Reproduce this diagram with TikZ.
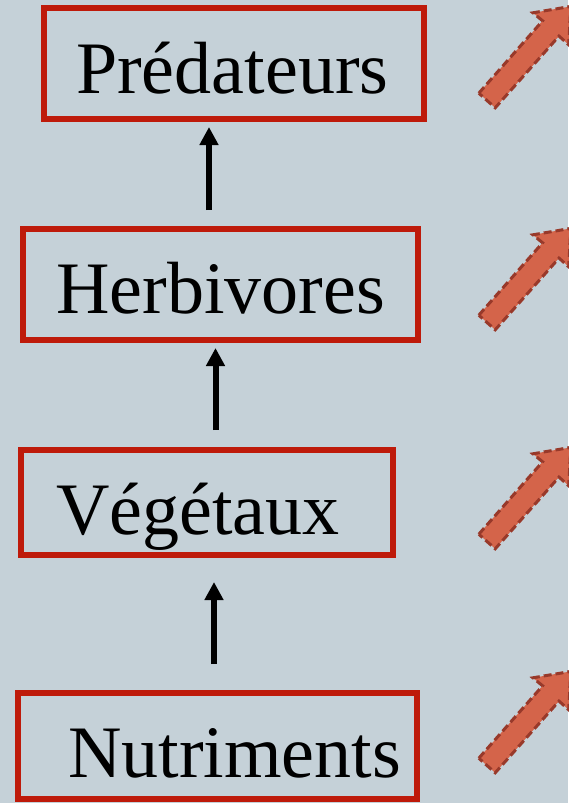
\documentclass[tikz,border=0pt]{standalone}
\usepackage{fontspec}
\setmainfont{Liberation Serif}
\usetikzlibrary{arrows.meta}
\definecolor{bgc}{HTML}{C5D1D8}
\definecolor{boxred}{HTML}{BE1A0A}
\definecolor{blkfill}{HTML}{D4644A}
\definecolor{blkedge}{HTML}{98392A}
\tikzset{
  levelbox/.style={draw=boxred, line width=6pt, rectangle, inner sep=0pt, outer sep=0pt, minimum height=111pt},
  lbl/.style={anchor=base west, inner sep=0pt, font=\fontsize{74}{80}\selectfont, text=black},
  uparr/.style={line width=6pt, draw=black, -{Triangle[length=18pt,width=18pt]}},
  blockarrow/.style={fill=blkfill, draw=blkedge, line width=3pt, dash pattern=on 8pt off 4pt, line join=miter}
}
\begin{document}
\begin{tikzpicture}[x=1pt,y=-1pt]
\fill[bgc] (0,0) rectangle (568,803);
\useasboundingbox (0,0) rectangle (568,803);
% boxes
\node[levelbox, minimum width=380pt] (pred) at (234,63.5) {};
\node[levelbox, minimum width=395pt] (herb) at (220.5,284.5) {};
\node[levelbox, minimum width=372pt, minimum height=105pt] (veg) at (207,502.5) {};
\node[levelbox, minimum width=399pt, minimum height=106pt] (nut) at (217.5,746) {};
% labels
\node[lbl] (tpred) at (76,93) {Prédateurs};
\node[lbl] (therb) at (56,313) {Herbivores};
\node[lbl] (tveg) at (56,534) {Végétaux};
\node[lbl] (tnut) at (68,777) {Nutriments};
% vertical arrows
\draw[uparr, shorten <=19pt, shorten >=8pt] (herb.north -| 209,0) -- (pred.south -| 209,0);
\draw[uparr, shorten <=20pt, shorten >=8pt] (veg.north -| 215.5,0) -- (herb.south -| 215.5,0);
\draw[uparr, shorten <=29pt, shorten >=27pt] (nut.north -| 214,0) -- (veg.south -| 214,0);
% block arrows
\foreach \dy in {0,222,441,665}{
  \begin{scope}[shift={(0,\dy)}]
    \draw[blockarrow] (478.8,93.2) -- (542.6,20.8) -- (532.9,12.8) -- (570.8,6.4)
      -- (568.7,44.8) -- (559,36.1) -- (495.2,107.8) -- cycle;
  \end{scope}
}
\end{tikzpicture}
\end{document}
